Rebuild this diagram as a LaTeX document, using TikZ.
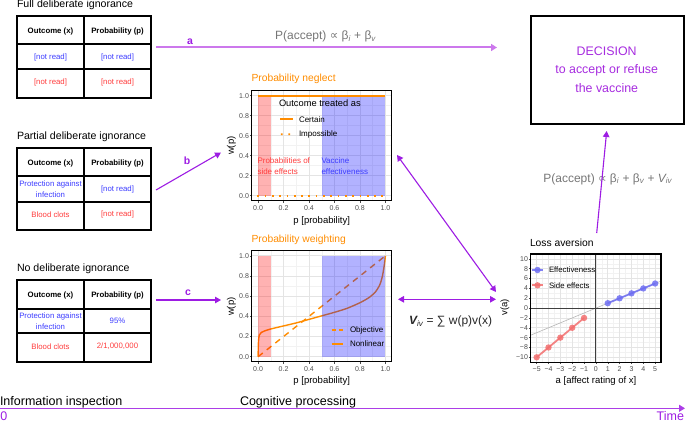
\documentclass[tikz,border=0pt]{standalone}
\usepackage{fontspec}
\setmainfont{Liberation Sans}
\newfontfamily\dejavu{DejaVu Sans}
\usetikzlibrary{arrows.meta}
\definecolor{purp}{HTML}{9D1CE3}
\definecolor{purplight}{HTML}{CC78EC}
\definecolor{decpurp}{HTML}{A62BDF}
\definecolor{org}{HTML}{FF8C00}
\definecolor{txtblue}{HTML}{3C3CFF}
\definecolor{txtred}{HTML}{FF3C3C}
\definecolor{gtxt}{HTML}{767676}
\definecolor{gridmaj}{HTML}{E4E4E4}
\definecolor{gridmin}{HTML}{F2F2F2}
\definecolor{ticktxt}{HTML}{4D4D4D}
\definecolor{ptblue}{HTML}{6E6EF2}
\definecolor{ptred}{HTML}{F26E6E}
\definecolor{refline}{HTML}{B5B5B5}
\newcommand{\fsz}[1]{\fontsize{#1}{#1}\selectfont}
\begin{document}
\begin{tikzpicture}[x=1pt,y=-1pt,
  every node/.style={inner sep=0pt,outer sep=0pt},
  ttl/.style={anchor=west,font=\fsz{10.6}},
  tbl/.style={draw,line width=1.8pt,minimum width=134pt,minimum height=82pt,anchor=north west},
  tline/.style={line width=1.8pt},
  hdr/.style={font=\fsz{7.8}\bfseries},
  cellb/.style={font=\fontsize{7.8}{10.5}\selectfont,text=txtblue,align=center},
  cellr/.style={font=\fontsize{7.8}{10.5}\selectfont,text=txtred,align=center},
  lab/.style={font=\fsz{10.5}\bfseries,text=purp},
  conn/.style={draw=purp,line width=1.1pt,-{Triangle[length=6pt,width=6.5pt]}},
  dconn/.style={draw=purp,line width=1.1pt,{Triangle[length=6pt,width=6.5pt]}-{Triangle[length=6pt,width=6.5pt]}},
  formula/.style={font=\fsz{12},text=gtxt},
  ticklab/.style={font=\fsz{7},text=ticktxt},
  tickmark/.style={draw=ticktxt,line width=0.5pt},
  axlab/.style={font=\fsz{9.5}},
  panelframe/.style={draw,line width=1.5pt,anchor=north west},
  leg/.style={anchor=west,font=\fsz{8}},
  ptitle/.style={anchor=west,font=\fsz{10.3},text=org},
  gmin/.style={draw=gridmin,line width=0.5pt},
  gmaj/.style={draw=gridmaj,line width=0.8pt},
  dectxt/.style={font=\fsz{12.4},text=decpurp},
  timetxt/.style={font=\fsz{12.5}},
]
\useasboundingbox (0,0) rectangle (685,422);

% ---------- Tables ----------
\node[ttl] (h1) at (17,5) {Full deliberate ignorance};
\node[tbl] (t1) at (17,15.7) {};
\draw[tline] (84,15.7) -- (84,97.7) (17,43.7) -- (151,43.7) (17,69.3) -- (151,69.3);
\node[hdr] (t1a) at (50.5,31) {Outcome (x)};
\node[hdr] (t1b) at (117.5,31) {Probability (p)};
\node[cellb] (t1c) at (50.5,57) {[not read]};
\node[cellb] (t1d) at (117.5,57) {[not read]};
\node[cellr] (t1e) at (50.5,82.5) {[not read]};
\node[cellr] (t1f) at (117.5,82.5) {[not read]};

\node[ttl] (h2) at (17,136.7) {Partial deliberate ignorance};
\node[tbl] (t2) at (17,147.7) {};
\draw[tline] (84,147.7) -- (84,230) (17,176) -- (151,176) (17,201.7) -- (151,201.7);
\node[hdr] (t2a) at (50.5,163) {Outcome (x)};
\node[hdr] (t2b) at (117.5,163) {Probability (p)};
\node[cellb] (t2c) at (50.5,189) {Protection against\\infection};
\node[cellb] (t2d) at (117.5,189) {[not read]};
\node[cellr] (t2e) at (50.5,214.3) {Blood clots};
\node[cellr] (t2f) at (117.5,214.3) {[not read]};

\node[ttl] (h3) at (17,269) {No deliberate ignorance};
\node[tbl] (t3) at (17,280) {};
\draw[tline] (84,280) -- (84,362) (17,308.7) -- (151,308.7) (17,333.3) -- (151,333.3);
\node[hdr] (t3a) at (50.5,295.5) {Outcome (x)};
\node[hdr] (t3b) at (117.5,295.5) {Probability (p)};
\node[cellb] (t3c) at (50.5,321.3) {Protection against\\infection};
\node[cellb] (t3d) at (117.5,321.3) {95\%};
\node[cellr] (t3e) at (50.5,346.3) {Blood clots};
\node[cellr] (t3f) at (117.5,346.3) {2/1,000,000};

% ---------- Probability neglect ----------
\node[ptitle] (nt) at (251.5,79) {Probability neglect};
\begin{scope}[shift={(258.1,195.7)},x=127.3pt,y=100pt]
  \foreach \g in {0.1,0.3,0.5,0.7,0.9} {\draw[gmin] (\g,-0.05) -- (\g,1.05); \draw[gmin] (-0.05,\g) -- (1.05,\g);}
  \foreach \g in {0,0.2,0.4,0.6,0.8,1} {\draw[gmaj] (\g,-0.05) -- (\g,1.05); \draw[gmaj] (-0.05,\g) -- (1.05,\g);}
  \fill[red,opacity=0.3] (0,0) rectangle (0.1,1);
  \fill[blue,opacity=0.3] (0.5,0) rectangle (1,1);
  \draw[org,line width=1.7pt] (0,1) -- (1,1);
  \draw[org,line width=1.7pt,dash pattern=on 1.7pt off 5.6pt] (-0.006,0) -- (1,0);
  \foreach \g/\l in {0/0.0,0.2/0.2,0.4/0.4,0.6/0.6,0.8/0.8,1/1.0} {
    \draw[tickmark] (\g,-0.05) -- ++(0pt,-2pt);
    \draw[tickmark] (-0.05,\g) -- ++(-2pt,0pt);
    \node[ticklab] at ([yshift=-7pt]\g,-0.05) {\l};
    \node[ticklab,anchor=east] at ([xshift=-2.8pt]-0.05,\g) {\l};
  }
\end{scope}
\node[panelframe,minimum width=140pt,minimum height=110pt] (pn) at (251.7,90.7) {};
\node[anchor=west,font=\fsz{9.3}] (lgt) at (279,102.7) {Outcome treated as};
\draw[org,line width=1.7pt] (280,119.3) -- (292.7,119.3);
\node[leg] (lg1) at (299,119.3) {Certain};
\fill[org] (280.8,133.45) rectangle +(1.7,1.7) (288.4,133.45) rectangle +(1.7,1.7);
\node[leg] (lg2) at (299,134.3) {Impossible};
\node[anchor=west,font=\fontsize{8}{11}\selectfont,text=txtred,align=left] (se) at (257.5,166.2) {Probabilities of\\side effects};
\node[anchor=west,font=\fontsize{8}{11}\selectfont,text=txtblue,align=left] (ve) at (321.5,166.2) {Vaccine\\effectiveness};
\node[axlab,rotate=90] (ny) at (231.5,145.7) {w(p)};
\node[axlab] (nx) at (321.7,221) {p [probability]};

% ---------- Probability weighting ----------
\node[ptitle] (wt) at (251.5,240) {Probability weighting};
\begin{scope}[shift={(258.1,356.7)},x=127.3pt,y=100.9pt]
  \foreach \g in {0.1,0.3,0.5,0.7,0.9} {\draw[gmin] (\g,-0.05) -- (\g,1.05); \draw[gmin] (-0.05,\g) -- (1.05,\g);}
  \foreach \g in {0,0.2,0.4,0.6,0.8,1} {\draw[gmaj] (\g,-0.05) -- (\g,1.05); \draw[gmaj] (-0.05,\g) -- (1.05,\g);}
  \draw[org,line width=1.4pt,dash pattern=on 6pt off 5pt] (0,0) -- (1,1);
  \draw[org,line width=1.4pt] plot[smooth,tension=0.45] coordinates {(0,0) (0.0015,0.1) (0.004,0.17) (0.01,0.215) (0.025,0.24) (0.05,0.255) (0.1,0.275) (0.2,0.305) (0.3,0.335) (0.4,0.37) (0.5,0.405) (0.6,0.44) (0.7,0.48) (0.8,0.535) (0.87,0.585) (0.92,0.64) (0.955,0.71) (0.975,0.79) (0.988,0.88) (0.996,0.95) (1,1)};
  \fill[red,opacity=0.3] (0,0) rectangle (0.1,1);
  \fill[blue,opacity=0.3] (0.5,0) rectangle (1,1);
  \foreach \g/\l in {0/0.0,0.2/0.2,0.4/0.4,0.6/0.6,0.8/0.8,1/1.0} {
    \draw[tickmark] (\g,-0.05) -- ++(0pt,-2pt);
    \draw[tickmark] (-0.05,\g) -- ++(-2pt,0pt);
    \node[ticklab] at ([yshift=-7.8pt]\g,-0.05) {\l};
    \node[ticklab,anchor=east] at ([xshift=-2.8pt]-0.05,\g) {\l};
  }
\end{scope}
\node[panelframe,minimum width=140pt,minimum height=111pt] (pw) at (251.7,250.7) {};
\draw[org,line width=1.4pt] (331.7,330) -- (335.7,330) (339.3,330) -- (343.3,330);
\node[leg] (lw1) at (350,330) {Objective};
\draw[org,line width=1.4pt] (331.7,344) -- (343.3,344);
\node[leg] (lw2) at (350,344) {Nonlinear};
\node[axlab,rotate=90] (wy) at (231.5,306.7) {w(p)};
\node[axlab] (wx) at (321.7,380.7) {p [probability]};

% ---------- Loss aversion ----------
\node[ttl,font=\fsz{10.3}] (lt) at (530,242.7) {Loss aversion};
\begin{scope}[shift={(595.9,308.1)},x=11.85pt,y=4.92pt]
  \foreach \g in {-11,-9,-7,-5,-3,-1,1,3,5,7,9,11} {\draw[gmin] (-5.5,\g) -- (5.5,\g);}
  \foreach \g in {-5.5,-4.5,-3.5,-2.5,-1.5,-0.5,0.5,1.5,2.5,3.5,4.5,5.5} {\draw[gmin] (\g,-11) -- (\g,11);}
  \foreach \g in {-10,-8,-6,-4,-2,0,2,4,6,8,10} {\draw[gmaj] (-5.5,\g) -- (5.5,\g);}
  \foreach \g in {-5,...,5} {\draw[gmaj] (\g,-11) -- (\g,11);}
  \draw[refline,line width=0.6pt] (-5.5,-5.5) -- (5.5,5.5);
  \draw[draw=ticktxt!80!black,line width=1.1pt] (0,-11) -- (0,11) (-5.5,0) -- (5.5,0);
  \draw[ptblue,line width=1.8pt,opacity=0.85] (1,1) -- (5,5);
  \foreach \i in {1,...,5} {\fill[ptblue,opacity=0.85] (\i,\i) circle[radius=3.2pt];}
  \draw[ptred,line width=1.8pt,opacity=0.85] (-5,-10) -- (-1,-2);
  \foreach \i in {1,...,5} {\fill[ptred,opacity=0.85] (-\i,-2*\i) circle[radius=3.2pt];}
  \foreach \g/\l in {-10/−10,-8/−8,-6/−6,-4/−4,-2/−2,0/0,2/2,4/4,6/6,8/8,10/10} {
    \draw[tickmark] (-5.5,\g) -- ++(-2pt,0pt);
    \node[ticklab,anchor=east] at ([xshift=-2.8pt]-5.5,\g) {\l};
  }
  \foreach \g/\l in {-5/−5,-4/−4,-3/−3,-2/−2,-1/−1,0/0,1/1,2/2,3/3,4/4,5/5} {
    \draw[tickmark] (\g,-11) -- ++(0pt,-2pt);
    \node[ticklab] at ([yshift=-7pt]\g,-11) {\l};
  }
\end{scope}
\node[panelframe,minimum width=130.3pt,minimum height=108.3pt] (la) at (530.7,254) {};
\draw[ptblue,line width=1.8pt,opacity=0.85] (531.7,270) -- (543.3,270);
\fill[ptblue,opacity=0.85] (537.5,270) circle[radius=3.2pt];
\node[leg,font=\fsz{7.8}] (ll1) at (549,270) {Effectiveness};
\draw[ptred,line width=1.8pt,opacity=0.85] (531.7,285.3) -- (543.3,285.3);
\fill[ptred,opacity=0.85] (537.5,285.3) circle[radius=3.2pt];
\node[leg,font=\fsz{7.8}] (ll2) at (549,285.3) {Side effects};
\node[axlab,rotate=90] (ly) at (505,307.5) {v(a)};
\node[axlab] (lx) at (596,380.7) {a [affect rating of x]};

% ---------- Decision ----------
\node[draw,line width=2pt,minimum width=153.6pt,minimum height=108.3pt,anchor=north west] (dec) at (530.7,15.7) {};
\node[dectxt] (d1) at (606.7,51.7) {DECISION};
\node[dectxt] (d2) at (606.7,70.3) {to accept or refuse};
\node[dectxt] (d3) at (606.7,88.3) {the vaccine};

% ---------- Formulas ----------
\node[formula] (f1) at (325.5,36.5) {P(accept) {\dejavu ∝} β\textsubscript{\itshape i} + β\textsubscript{\itshape v}};
\node[formula] (f2) at (607.8,179) {P(accept) {\dejavu ∝} β\textsubscript{\itshape i} + β\textsubscript{\itshape v} + {\itshape V}\textsubscript{\itshape iv}};
\node[formula,anchor=west,text=black!85] (f3) at (409,321.5) {{\bfseries\itshape V}\textsubscript{\itshape iv} = ∑ w(p)v(x)};

% ---------- Connectors ----------
\coordinate (aS) at (156,47.5);
\coordinate (aE) at (497,47.5);
\draw[draw=purplight,line width=2pt,-{Triangle[length=6pt,width=7pt]}] (aS) -- (aE);
\node[lab] (la1) at (190,41.5) {a};

\coordinate (bS) at (156,190);
\coordinate (bE) at (221,152.5);
\draw[conn] (bS) -- (bE);
\node[lab] (lb1) at (187,160.5) {b};

\coordinate (cS) at (156,300);
\coordinate (cE) at (221,300);
\draw[conn] (cS) -- (cE);
\node[lab] (lc1) at (188,292.7) {c};

\coordinate (nR) at (397,155);
\coordinate (lA) at (496,292);
\draw[dconn] (nR) -- (lA);
\coordinate (wR) at (398,299.3);
\coordinate (lB) at (496,299.3);
\draw[dconn] (wR) -- (lB);

\coordinate (uS) at (596.7,233);
\coordinate (uE) at (606.7,131);
\draw[conn] (uS) -- (uE);

% ---------- Timeline ----------
\coordinate (tS) at (0,408.3);
\coordinate (tE) at (685,408.3);
\draw[draw=purp!85,line width=1.2pt,-{Triangle[length=6pt,width=7pt]}] (tS) -- (tE);
\node[timetxt,anchor=west] (ti1) at (0,402.3) {Information inspection};
\node[timetxt,anchor=west] (ti2) at (240,402.3) {Cognitive processing};
\node[timetxt,anchor=west,text=purp] (t0) at (0.3,416) {0};
\node[timetxt,anchor=east,text=purp] (tT) at (684,416) {Time};
\end{tikzpicture}
\end{document}
